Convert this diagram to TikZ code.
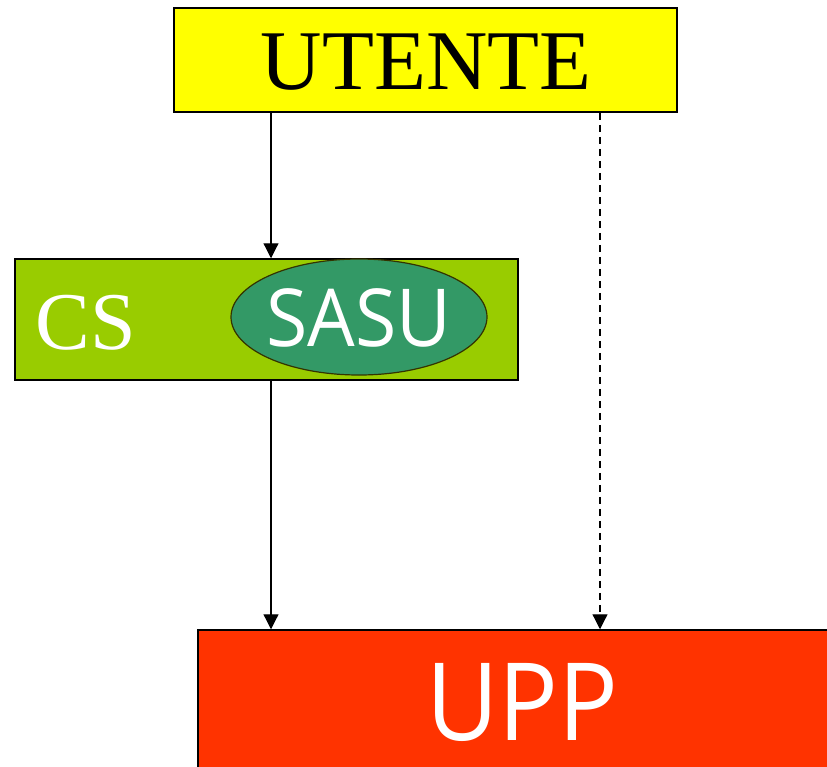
\documentclass[tikz,border=0pt]{standalone}
\usepackage{fontspec}
\setmainfont{Liberation Serif}
\newfontfamily\seriffnt{Liberation Serif}
\newfontfamily\sansfnt{Open Sans}
\usetikzlibrary{arrows.meta,shapes.geometric}
\definecolor{yel}{HTML}{FFFF00}
\definecolor{csgreen}{HTML}{99CC00}
\definecolor{sasugreen}{HTML}{339966}
\definecolor{sasuborder}{HTML}{333300}
\definecolor{uppred}{HTML}{FF3300}
\tikzset{
  box/.style={draw=black, line width=1.5pt, rectangle, inner sep=0pt},
  conn/.style={line width=1.2pt, -{Triangle[width=15pt,length=15pt]}},
  dconn/.style={conn, dash pattern=on 7pt off 5pt},
}
\begin{document}
\begin{tikzpicture}[x=1pt,y=-1pt]
\useasboundingbox (0,0) rectangle (827,766);
\clip (0,0) rectangle (827,766);
\node[box, fill=yel, minimum width=503pt, minimum height=104pt] (utente) at (425.5,60) {};
\node (utentetxt) at (426,62) {\seriffnt\fontsize{85}{90}\selectfont UTENTE};
\node[box, fill=csgreen, minimum width=503pt, minimum height=121pt] (cs) at (266.5,319.5) {};
\node[ellipse, draw=sasuborder, line width=1.2pt, fill=sasugreen, minimum width=256pt, minimum height=116pt, inner sep=0pt] (sasu) at (359,317) {};
\node[text=white] (cstxt) at (86,323) {\seriffnt\fontsize{82}{86}\selectfont CS};
\node[text=white] (sasutxt) at (359,318) {\sansfnt\fontsize{80}{84}\selectfont\scalebox{0.94}[1]{SASU}};
\node[box, fill=uppred, minimum width=642pt, minimum height=150pt] (upp) at (519,705) {};
\node[text=white] (upptxt) at (522,702) {\sansfnt\fontsize{108}{110}\selectfont\scalebox{0.92}[1]{UPP}};
\coordinate (xa) at (271,0);
\coordinate (xb) at (600,0);
\draw[conn] (utente.south -| xa) -- (cs.north -| xa);
\draw[conn] (cs.south -| xa) -- (upp.north -| xa);
\draw[dconn] (utente.south -| xb) -- (upp.north -| xb);
\end{tikzpicture}
\end{document}
